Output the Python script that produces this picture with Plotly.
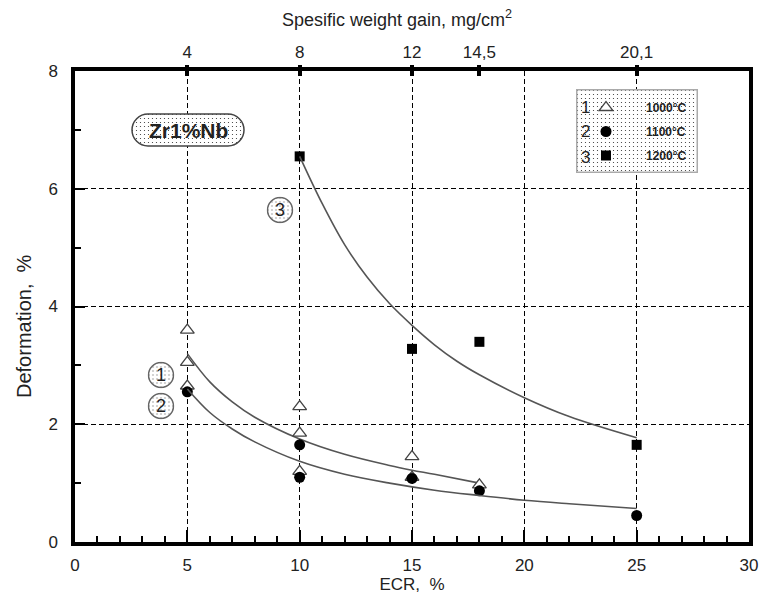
import base64
import plotly.graph_objects as go

# Measured points: ECR (%) vs deformation (%) for three oxidation temperatures
ecr_1000 = [5, 5, 5, 10, 10, 10, 15, 15, 18]
def_1000 = [3.6, 3.05, 2.65, 2.3, 1.85, 1.2, 1.45, 1.1, 0.97]
ecr_1100 = [5, 10, 10, 15, 18, 25]
def_1100 = [2.55, 1.65, 1.1, 1.08, 0.87, 0.45]
ecr_1200 = [10, 15, 18, 25]
def_1200 = [6.55, 3.28, 3.4, 1.65]

# Trend curves drawn through each data set
fit_x_1000 = [5, 6, 7, 8, 10, 12, 14, 15, 16, 18]
fit_y_1000 = [3.2, 2.72, 2.38, 2.12, 1.75, 1.49, 1.30, 1.22, 1.15, 1.0]
fit_x_1100 = [5, 6, 7, 8, 10, 12, 14, 16, 18, 20, 22, 25]
fit_y_1100 = [2.6, 2.2, 1.92, 1.7, 1.37, 1.15, 1.0, 0.88, 0.79, 0.71, 0.65, 0.57]
fit_x_1200 = [10, 11, 12, 13, 14, 15, 16, 17, 18, 20, 22, 25]
fit_y_1200 = [6.55, 5.75, 5.05, 4.5, 4.05, 3.68, 3.35, 3.07, 2.84, 2.45, 2.13, 1.77]

# Secondary (top) scale: specific weight gain at given ECR values
gain_ecr = [5, 10, 15, 18, 25]
gain_labels = ["4", "8", "12", "14,5", "20,1"]

series_names = ["1000°C", "1100°C", "1200°C"]
series_ids = ["1", "2", "3"]

FONT = "Liberation Sans, Arial, sans-serif"
W, H = 764, 596
L, R, T, B = 75, 749, 71, 542


def px_x(x):
    return (x - L) / (R - L)


def px_y(y):
    return (B - y) / (B - T)


def dotted_svg(w, h, shape, stroke="#555"):
    pat = ('<defs><pattern id="d" width="4" height="4" patternUnits="userSpaceOnUse">'
           '<circle cx="1.5" cy="1.5" r="0.6" fill="#333"/></pattern></defs>')
    if shape == "pill":
        geo = f'x="1" y="1" width="{w-2}" height="{h-2}" rx="{(h-2)/2}" ry="{(h-2)/2}"'
        tag = "rect"
    elif shape == "circle":
        geo = f'cx="{w/2}" cy="{h/2}" r="{min(w, h)/2-1}"'
        tag = "circle"
    else:
        geo = f'x="0.75" y="0.75" width="{w-1.5}" height="{h-1.5}"'
        tag = "rect"
    svg = (f'<svg xmlns="http://www.w3.org/2000/svg" width="{w}" height="{h}" viewBox="0 0 {w} {h}">'
           f'{pat}<{tag} {geo} fill="white"/>'
           f'<{tag} {geo} fill="url(#d)" stroke="{stroke}" stroke-width="1.5"/></svg>')
    return "data:image/svg+xml;base64," + base64.b64encode(svg.encode()).decode()


def badge(cx, cy, w, h, shape, stroke="#555"):
    return dict(source=dotted_svg(w, h, shape, stroke), xref="paper", yref="paper",
                x=px_x(cx - w / 2), y=px_y(cy - h / 2),
                sizex=w / (R - L), sizey=h / (B - T),
                xanchor="left", yanchor="top", sizing="stretch", layer="above")


fig = go.Figure()

curve_style = dict(mode="lines", line=dict(color="#555", width=1.6, shape="spline", smoothing=1),
                   showlegend=False, hoverinfo="skip")
fig.add_trace(go.Scatter(x=fit_x_1000, y=fit_y_1000, xaxis="x", **curve_style))
fig.add_trace(go.Scatter(x=fit_x_1100, y=fit_y_1100, xaxis="x2", **curve_style))
fig.add_trace(go.Scatter(x=fit_x_1200, y=fit_y_1200, xaxis="x3", **curve_style))

pad = "\u00a0" * 6
fig.add_trace(go.Scatter(x=ecr_1000, y=def_1000, mode="markers", name=pad + series_names[0],
                         legendgroup="a",
                         marker=dict(symbol="triangle-up", size=12, color="white",
                                     line=dict(color="#444", width=1.3))))
fig.add_trace(go.Scatter(x=ecr_1100, y=def_1100, mode="markers", name=pad + series_names[1],
                         legendgroup="b",
                         marker=dict(symbol="circle", size=11, color="black")))
fig.add_trace(go.Scatter(x=ecr_1200, y=def_1200, mode="markers", name=pad + series_names[2],
                         legendgroup="c",
                         marker=dict(symbol="square", size=10, color="black")))

grid = dict(showgrid=True, gridcolor="black", gridwidth=1.2, griddash="5px,3px")

fig.update_layout(
    width=W, height=H,
    margin=dict(l=L, r=W - R, t=T, b=H - B, autoexpand=False),
    paper_bgcolor="white", plot_bgcolor="white",
    font=dict(family=FONT, size=17, color="#222"),
    xaxis=dict(range=[0, 30], dtick=5, tick0=0, ticks="inside", ticklen=12, tickwidth=2.2,
               tickcolor="black", showline=True, linewidth=3.5, linecolor="black", mirror=True,
               minor=dict(dtick=1, ticks="inside", ticklen=6, tickwidth=2.2, tickcolor="black"),
               zeroline=False, ticklabelstandoff=5, automargin=False,
               title=dict(text="ECR,\u00a0 %", font=dict(size=17), standoff=2), **grid),
    yaxis=dict(range=[0, 8], dtick=2, tick0=0, ticks="inside", ticklen=10, tickwidth=2.2,
               tickcolor="black", showline=True, linewidth=3.5, linecolor="black", mirror=True,
               minor=dict(dtick=1, ticks="inside", ticklen=6, tickwidth=2.2, tickcolor="black"),
               zeroline=False, ticklabelstandoff=10, automargin=False, **grid),
    xaxis2=dict(range=[0, 30], overlaying="x", side="top", tickmode="array",
                tickvals=gain_ecr, ticktext=gain_labels, ticks="outside", ticklen=5,
                tickwidth=4, tickcolor="black", showgrid=False, zeroline=False, showline=False,
                automargin=False),
    xaxis3=dict(range=[0, 30], overlaying="x", side="top", tickmode="array",
                tickvals=gain_ecr, ticks="inside", ticklen=5, tickwidth=4, tickcolor="black",
                showticklabels=False, showgrid=False, zeroline=False, showline=False,
                automargin=False),
    legend=dict(x=px_x(586), y=px_y(93), xanchor="left", yanchor="top",
                bgcolor="rgba(0,0,0,0)", borderwidth=0, tracegroupgap=5,
                font=dict(family=FONT, size=12, color="#222", weight="bold"), itemwidth=30),
    showlegend=True,
)

images = [
    badge(188, 130, 114, 34, "pill", stroke="#444"),
    badge(637, 131, 122, 84, "rect", stroke="#aaa"),
    badge(161, 375, 27, 27, "circle", stroke="#666"),
    badge(161, 406, 27, 27, "circle", stroke="#666"),
    badge(280, 210, 27, 27, "circle", stroke="#666"),
]
fig.update_layout(images=images)

ann = [
    dict(x=px_x(188), y=px_y(130), text="<b>Zr1%Nb</b>", font=dict(size=21, color="#222")),
    dict(x=px_x(161), y=px_y(375), text=series_ids[0], font=dict(size=18)),
    dict(x=px_x(161), y=px_y(406), text=series_ids[1], font=dict(size=18)),
    dict(x=px_x(280), y=px_y(210), text=series_ids[2], font=dict(size=18)),
    dict(x=px_x(585), y=px_y(107), text=series_ids[0], font=dict(size=17)),
    dict(x=px_x(585), y=px_y(131), text=series_ids[1], font=dict(size=17)),
    dict(x=px_x(585), y=px_y(157), text=series_ids[2], font=dict(size=17)),
    dict(x=px_x(397), y=px_y(18), text="Spesific weight gain, mg/cm<sup>2</sup>",
         font=dict(size=18)),
    dict(x=px_x(24), y=px_y(326), text="Deformation,\u00a0 %", textangle=-90,
         font=dict(size=20)),
]
for a in ann:
    a.update(xref="paper", yref="paper", showarrow=False, xanchor="center", yanchor="middle")
fig.update_layout(annotations=ann)

fig.write_html("out.html")
